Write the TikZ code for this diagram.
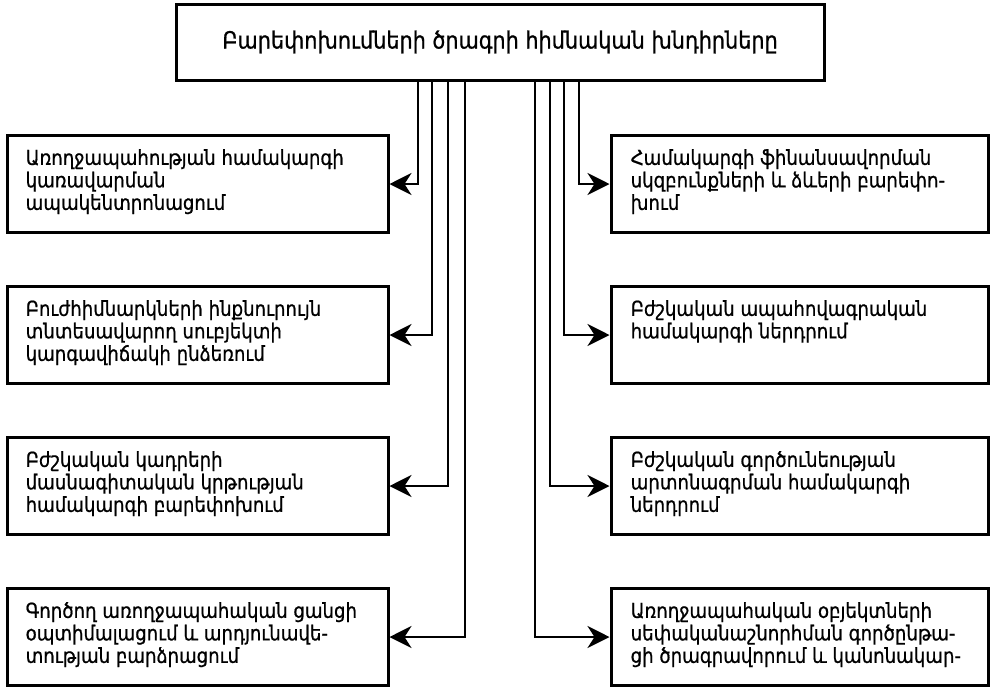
\documentclass[tikz,border=0pt]{standalone}
\usepackage{fontspec}
\setmainfont[FakeStretch=0.88,FakeBold=0.8]{DejaVu Sans}
\usetikzlibrary{arrows.meta}
\begin{document}
\begin{tikzpicture}[x=1pt,y=-1pt,
  lbox/.style={draw, line width=3pt, minimum width=381pt, minimum height=97pt, inner sep=0pt},
  rbox/.style={draw, line width=3pt, minimum width=377pt, minimum height=97pt, inner sep=0pt},
  txt/.style={align=left, inner sep=0pt, anchor=north west, font=\fontsize{20.6}{22.5}\selectfont},
  conn/.style={line width=2.8pt, -{Stealth[length=22pt,width=22pt,inset=7pt]}}]
\useasboundingbox (0,0) rectangle (991,689);
\node[draw, line width=3pt, minimum width=648pt, minimum height=76pt, inner sep=0pt,
  font=\fontsize{23.6}{27}\selectfont] (T) at (500,42) {Բարեփոխումների ծրագրի հիմնական խնդիրները};
\node[lbox] (L1) at (197.5,184) {};
\node[lbox] (L2) at (197.5,335) {};
\node[lbox] (L3) at (197.5,486) {};
\node[lbox] (L4) at (197.5,637) {};
\node[rbox] (R1) at (799.5,184) {};
\node[rbox] (R2) at (799.5,335) {};
\node[rbox] (R3) at (799.5,486) {};
\node[rbox] (R4) at (799.5,637) {};
\node[txt] (tL1) at ([xshift=20pt,yshift=-15pt]L1.north west) {Առողջապահության համակարգի\\կառավարման\\ապակենտրոնացում};
\node[txt] (tL2) at ([xshift=20pt,yshift=-15pt]L2.north west) {Բուժհիմնարկների ինքնուրույն\\տնտեսավարող սուբյեկտի\\կարգավիճակի ընձեռում};
\node[txt] (tL3) at ([xshift=20pt,yshift=-15pt]L3.north west) {Բժշկական կադրերի\\մասնագիտական կրթության\\համակարգի բարեփոխում};
\node[txt] (tL4) at ([xshift=20pt,yshift=-15pt]L4.north west) {Գործող առողջապահական ցանցի\\օպտիմալացում և արդյունավե-\\տության բարձրացում};
\node[txt] (tR1) at ([xshift=21pt,yshift=-15pt]R1.north west) {Համակարգի ֆինանսավորման\\սկզբունքների և ձևերի բարեփո-\\խում};
\node[txt] (tR2) at ([xshift=21pt,yshift=-15pt]R2.north west) {Բժշկական ապահովագրական\\համակարգի ներդրում};
\node[txt] (tR3) at ([xshift=21pt,yshift=-15pt]R3.north west) {Բժշկական գործունեության\\արտոնագրման համակարգի\\ներդրում};
\node[txt] (tR4) at ([xshift=21pt,yshift=-15pt]R4.north west) {Առողջապահական օբյեկտների\\սեփականաշնորհման գործընթա-\\ցի ծրագրավորում և կանոնակար-};
\draw[conn] ([xshift=-82pt]T.south) |- (L1.east);
\draw[conn] ([xshift=-68pt]T.south) |- (L2.east);
\draw[conn] ([xshift=-52pt]T.south) |- (L3.east);
\draw[conn] ([xshift=-35pt]T.south) |- (L4.east);
\draw[conn] ([xshift=79pt]T.south) |- (R1.west);
\draw[conn] ([xshift=64pt]T.south) |- (R2.west);
\draw[conn] ([xshift=50pt]T.south) |- (R3.west);
\draw[conn] ([xshift=35pt]T.south) |- (R4.west);
\end{tikzpicture}
\end{document}
